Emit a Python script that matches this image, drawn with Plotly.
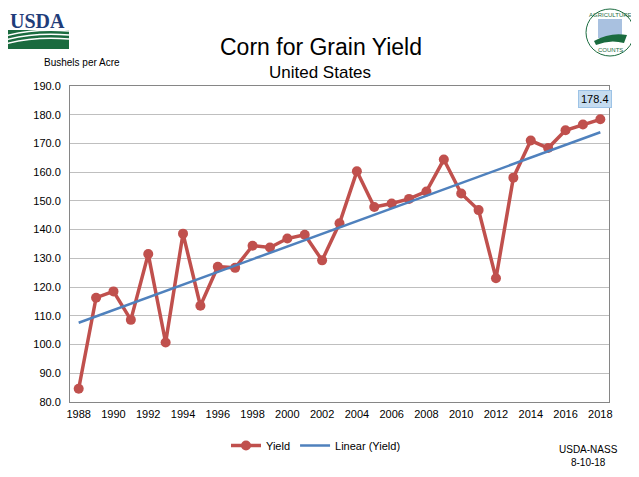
import plotly.graph_objects as go

years = list(range(1988, 2019))
yield_vals = [84.6, 116.3, 118.5, 108.6, 131.5, 100.7, 138.6, 113.5, 127.1, 126.7,
              134.4, 133.8, 136.9, 138.2, 129.3, 142.2, 160.3, 147.9, 149.1, 150.7,
              153.3, 164.4, 152.6, 146.8, 123.1, 158.1, 171.0, 168.4, 174.6, 176.6, 178.4]
trend_years = [1988, 2018]
trend_vals = [107.6, 173.9]
y_ticks = [80, 90, 100, 110, 120, 130, 140, 150, 160, 170, 180, 190]

OFF = 8  # page body margin
W, H = 639 - OFF, 477 - OFF
L, R, T, B = 70, 609, 86, 402


def px(x):
    return (x - L) / (R - L)


def py(y):
    return (B - y) / (B - T)


fig = go.Figure()
fig.add_trace(go.Scatter(x=years, y=yield_vals, mode="lines+markers", name="Yield",
                         line=dict(color="#c0504d", width=3.5),
                         marker=dict(color="#c0504d", size=10)))
fig.add_trace(go.Scatter(x=trend_years, y=trend_vals, mode="lines", name="Linear (Yield)",
                         line=dict(color="#4f81bd", width=2.5)))

fig.update_layout(
    width=W, height=H,
    margin=dict(l=L - OFF, r=639 - R, t=T - OFF, b=477 - B),
    paper_bgcolor="white", plot_bgcolor="white",
    font=dict(family="Liberation Sans, Arial", color="#000000", size=11),
    showlegend=True,
    legend=dict(orientation="h", x=px(316), xanchor="center", y=py(431), yanchor="top",
                itemwidth=30, font=dict(size=11)),
    xaxis=dict(range=[1987.5, 2018.5], tickmode="linear", tick0=1988, dtick=2,
               showgrid=False, showline=True, linecolor="#868686", linewidth=1,
               mirror=True, ticks="", zeroline=False, tickfont=dict(size=11),
               ticklabelstandoff=2),
    yaxis=dict(range=[80, 190], tickvals=y_ticks,
               ticktext=[f"{v:.1f}" for v in y_ticks],
               showgrid=True, gridcolor="#bfbfbf", gridwidth=1,
               showline=True, linecolor="#868686", linewidth=1, mirror=True,
               ticks="", zeroline=False, tickfont=dict(size=11),
               ticklabelstandoff=6),
)


def note(text, x, y, size, xanchor="center", color="#000000", family="Liberation Sans, Arial"):
    fig.add_annotation(text=text, xref="paper", yref="paper", x=px(x), y=py(y),
                       xanchor=xanchor, yanchor="middle", showarrow=False, align="center",
                       font=dict(size=size, color=color, family=family))


# Titles
note("Corn for Grain Yield", 321, 47, 23)
note("United States", 320, 72, 17)
note("Bushels per Acre", 42, 62, 10, xanchor="left")
note("USDA-NASS<br>8-10-18", 588, 456, 10)

# Data label for last point
fig.add_annotation(text="178.4", x=years[-1], y=yield_vals[-1], xref="x", yref="y",
                   showarrow=False, yshift=20, xshift=-5, bgcolor="#c5dcf0",
                   bordercolor="#9dc3e6", borderwidth=1, borderpad=2,
                   font=dict(size=11))

# USDA logo
note("<b>USDA</b>", 37, 21, 20, color="#1f3d7a", family="Liberation Serif, serif")
fig.add_shape(type="rect", xref="paper", yref="paper",
              x0=px(5), x1=px(69), y0=py(49), y1=py(30),
              fillcolor="#1a6b3f", line=dict(width=0))
for yy, c in [(36, 34), (40, 38), (44, 42)]:
    fig.add_shape(type="path", xref="paper", yref="paper",
                  path=f"M {px(5)},{py(yy)} Q {px(35)},{py(c - 6)} {px(69)},{py(c - 3)}",
                  line=dict(color="white", width=1.5))

# Agriculture Counts logo
fig.add_shape(type="circle", xref="paper", yref="paper",
              x0=px(586), x1=px(634), y0=py(56), y1=py(9),
              fillcolor="white", line=dict(color="#1a6b3f", width=1))
fig.add_shape(type="rect", xref="paper", yref="paper",
              x0=px(598), x1=px(622), y0=py(38), y1=py(19),
              fillcolor="#a9c1e0", line=dict(width=0))
fig.add_shape(type="path", xref="paper", yref="paper",
              path=f"M {px(594)},{py(41)} Q {px(610)},{py(32)} {px(627)},{py(35)} L {px(624)},{py(43)} Q {px(610)},{py(39)} {px(596)},{py(45)} Z",
              fillcolor="#1a6b3f", line=dict(width=0))
note("AGRICULTURE", 610, 15, 6, color="#1a6b3f")
note("COUNTS", 610, 50, 6, color="#1a6b3f")

fig.write_html("out.html")
